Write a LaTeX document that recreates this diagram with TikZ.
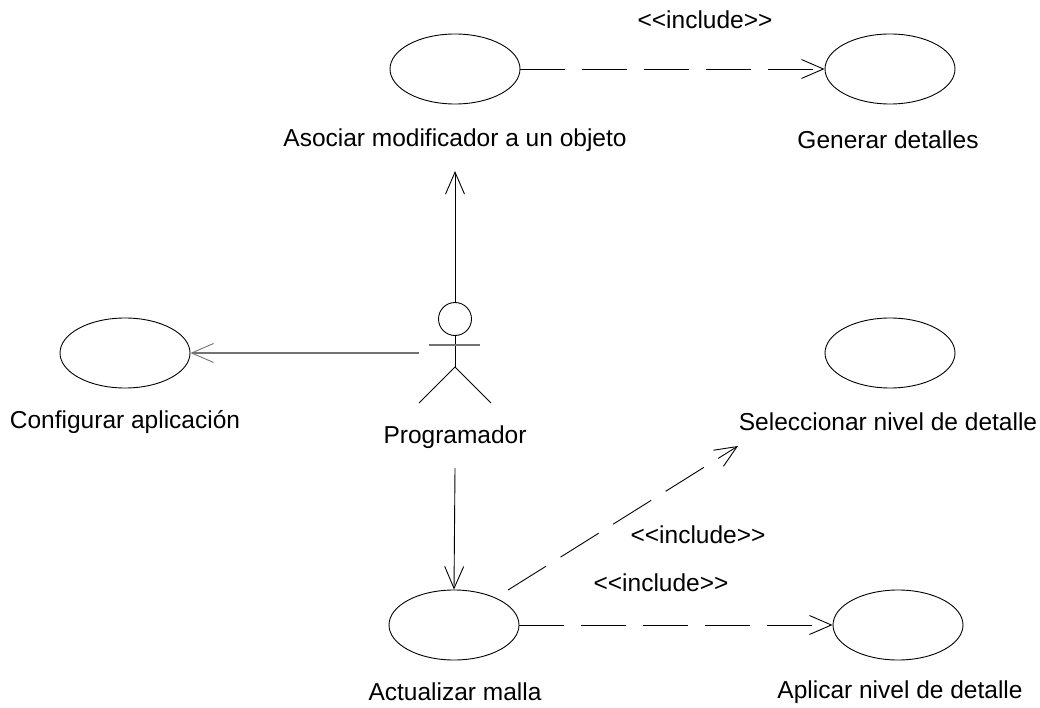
\documentclass[tikz,border=0pt]{standalone}
\usepackage{fontspec}
\setmainfont{Liberation Sans}
\usetikzlibrary{arrows.meta,shapes.geometric}
\begin{document}
\begin{tikzpicture}[x=1pt,y=-1pt,
  uc/.style={draw,ellipse,minimum width=130pt,minimum height=70pt,inner sep=0pt,line width=0.9pt},
  lbl/.style={font=\fontsize{24.5}{28}\selectfont,inner sep=0pt},
  assoc/.style={line width=0.9pt,-{Straight Barb[length=22pt,width=19pt,line width=0.9pt]}},
  incl/.style={line width=0.9pt,dash pattern=on 45pt off 17pt,-{Straight Barb[length=22pt,width=19pt,line width=0.9pt]}},
  gray line/.style={draw=black!55,line width=1.2pt}]
\useasboundingbox (0,0) rectangle (1040,708);
\node[uc] (asoc) at (455,69) {};
\node[uc] (gen) at (890,69) {};
\node[uc] (conf) at (125,353) {};
\node[uc] (sel) at (890,353) {};
\node[uc] (act) at (454,625) {};
\node[uc] (apl) at (898,625) {};
\node[lbl] (lasoc) at (455,140) {Asociar modificador a un objeto};
\node[lbl] (lgen) at (888,140) {Generar detalles};
\node[lbl] (lconf) at (125,422) {Configurar aplicación};
\node[lbl] (lprog) at (455,437) {Programador};
\node[lbl] (lsel) at (888,422) {Seleccionar nivel de detalle};
\node[lbl] (lact) at (455,692) {Actualizar malla};
\node[lbl] (lapl) at (900,692) {Aplicar nivel de detalle};
% actor
\node[draw,circle,minimum size=33pt,inner sep=0pt,line width=0.9pt] (head) at (455,319) {};
\coordinate (hip) at (455,367);
\coordinate (lfoot) at (419,403);
\coordinate (rfoot) at (491,403);
\coordinate (larm) at (429,345);
\coordinate (rarm) at (480,345);
\coordinate (actl) at (419,353);
\coordinate (actb) at (455,468);
\coordinate (atop) at (455,171);
\draw[line width=0.9pt] (head.south) -- (hip);
\draw[line width=0.9pt] (lfoot) -- (hip) -- (rfoot);
\draw[gray line] (larm) -- (rarm);
% associations
\draw[assoc] (head.north) -- (atop);
\draw[assoc,draw=black!55,line width=1.1pt] (actl) -- (conf.east);
\draw[assoc] (actb) -- (act.north);
% includes
\draw[incl] (asoc.east) -- (gen.west);
\node[lbl] (i1) at (705,20) {{<}{<}include{>}{>}};
\coordinate (as) at (508,590);
\coordinate (selp) at (738,446);
\draw[incl] (as) -- (selp);
\node[lbl] (i2) at (698,535) {{<}{<}include{>}{>}};
\draw[incl] (act.east) -- (apl.west);
\node[lbl] (i3) at (661,583) {{<}{<}include{>}{>}};
\end{tikzpicture}
\end{document}
